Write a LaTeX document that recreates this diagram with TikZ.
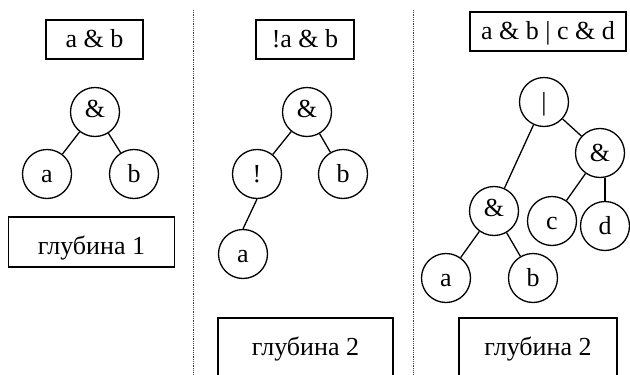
\documentclass[tikz,border=0pt]{standalone}
\usepackage{fontspec}
\setmainfont{Liberation Serif}
\begin{document}
\begin{tikzpicture}[x=1pt,y=-1pt,
  every node/.style={font=\fontsize{26}{30}\selectfont, inner sep=0pt},
  vtx/.style={draw, circle, line width=1.3pt, minimum size=49pt, text height=18pt, text depth=2pt},
  opv/.style={vtx, text height=14pt, text depth=4pt},
  lbl/.style={draw, rectangle, line width=1.3pt},
  small/.style={lbl, minimum height=39pt, text height=20pt, text depth=5pt},
  depthbox/.style={lbl, minimum height=50pt, text height=30pt, text depth=5pt},
  openbox/.style={lbl, minimum height=62pt, text height=20pt, text depth=8pt},
  edge/.style={line width=1.3pt},
  sep/.style={line width=0.8pt, densely dotted, black!75}]
\clip (0,0) rectangle (630,375);

% panel separators
\draw[sep] (193,10) -- (193,375);
\draw[sep] (413,10) -- (413,375);

% ---- a & b
\node[small, minimum width=97pt] (e1) at (94.5,39.5) {a \& b};
\node[opv] (p1and) at (95,112) {\&};
\node[vtx] (p1a) at (47,174) {a};
\node[vtx] (p1b) at (134,174) {b};
\draw[edge] (p1and) -- (p1a);
\draw[edge] (p1and) -- (p1b);
\node[depthbox, minimum width=166pt] (d1) at (91.5,242) {глубина 1};

% ---- !a & b
\node[small, minimum width=98pt] (e2) at (305,39.5) {!a \& b};
\node[opv] (p2and) at (307,112) {\&};
\node[vtx] (p2not) at (257,174) {!};
\node[vtx] (p2b) at (343,174) {b};
\node[vtx] (p2a) at (243,254) {a};
\draw[edge] (p2and) -- (p2not);
\draw[edge] (p2and) -- (p2b);
\draw[edge] (p2not.south) -- (p2a.north);
\node[openbox, minimum width=175pt] (d2) at (305.5,349) {глубина 2};

% ---- a & b | c & d
\node[small, minimum width=156pt] (e3) at (548,31.5) {a \& b | c \& d};
\node[vtx] (p3or) at (544,102) {|};
\node[vtx] (p3r) at (600,153) {\&};
\node[opv] (p3l) at (494,211) {\&};
\node[vtx] (p3c) at (552,221) {c};
\node[vtx] (p3d) at (605,226) {d};
\node[vtx] (p3a) at (446,278) {a};
\node[vtx] (p3b) at (533,278) {b};
\draw[edge] (p3or) -- (p3l);
\draw[edge] (p3or) -- (p3r);
\draw[edge] (p3r) -- (p3c);
\draw[edge] (p3r.south -| p3d) -- (p3d.north);
\draw[edge] (p3l) -- (p3a);
\draw[edge] (p3l) -- (p3b);
\node[openbox, minimum width=158pt] (d3) at (538,349) {глубина 2};
\end{tikzpicture}
\end{document}
